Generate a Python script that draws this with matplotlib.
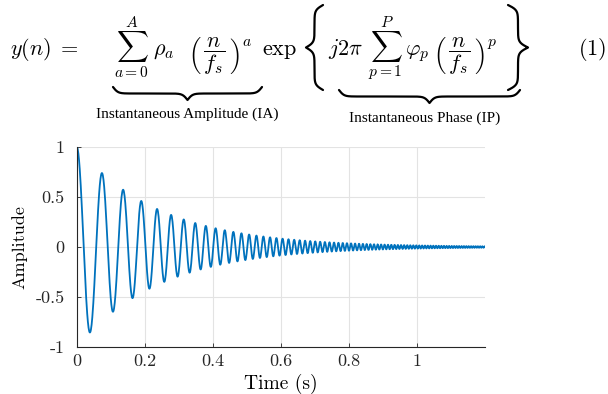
import numpy as np
import matplotlib
matplotlib.use('Agg')
import matplotlib.pyplot as plt
from matplotlib.lines import Line2D

# Signal parameters (peak/zero timings and envelope)
FS = 1000                      # samples per second
T_END = 1.2                    # seconds shown on the x axis
ENV_DECAY = 4.1                # amplitude envelope exp(-ENV_DECAY * t)
PHASE_COEFS = [12.45, 13.13, 25.65]   # phi_1..phi_3 (cycles / s^p)

X_TICKS = [0, 0.2, 0.4, 0.6, 0.8, 1]
X_TICK_LABELS = ['0', '0.2', '0.4', '0.6', '0.8', '1']
Y_TICKS = [-1, -0.5, 0, 0.5, 1]
Y_TICK_LABELS = ['-1', '-0.5', '0', '0.5', '1']

W, H = 608, 394
LINE_COLOR = '#0072BD'
GRID_COLOR = '#e3e3e3'


def fx(px):
    return np.asarray(px) / W


def fy(py):
    return 1 - np.asarray(py) / H


def brace(fig, p0, p1, normal, depth, lw=1.6):
    """Curly brace between two end points (pixel coords), tip along normal."""
    p0 = np.array(p0, float)
    p1 = np.array(p1, float)
    length = np.hypot(*(p1 - p0))
    beta = length / 2.5
    half = np.linspace(0, 0.5, 200)
    dh = 1 / (1 + np.exp(-beta * half)) + 1 / (1 + np.exp(-beta * (half - 0.5)))
    d = np.concatenate([dh, dh[::-1]])
    d = (d - d.min()) / (d.max() - d.min())
    s = np.concatenate([half, half + 0.5])
    pts = p0 + np.outer(s, p1 - p0) + np.outer(d * depth, normal)
    fig.add_artist(Line2D(fx(pts[:, 0]), fy(pts[:, 1]),
                          transform=fig.transFigure, color='black', lw=lw,
                          solid_capstyle='round', solid_joinstyle='round'))


def signal():
    t = np.arange(0, T_END + 1 / FS, 1 / FS)
    phase = sum(c * t ** (p + 1) for p, c in enumerate(PHASE_COEFS))
    y = np.exp(-ENV_DECAY * t) * np.cos(2 * np.pi * phase)
    return t, y


def eq(fig, x, s, ha='left', size=16, base=55):
    fig.text(fx(x), fy(base), s, fontsize=size, ha=ha, va='baseline')


def start():
    plt.rcParams['font.family'] = 'serif'
    plt.rcParams['font.serif'] = ['cmr10']
    plt.rcParams['mathtext.fontset'] = 'cm'

    fig = plt.figure(figsize=(W / 100, H / 100), dpi=100)

    # equation (1), placed piece by piece
    eq(fig, 10, r'$y(n)\;=$')
    eq(fig, 114, r'$\sum_{a=0}^{A}$')
    eq(fig, 153, r'$\rho_a$')
    eq(fig, 188, r'$\left(\,\dfrac{n}{f_s}\,\right)^{a}$')
    eq(fig, 262, r'$\exp$')
    eq(fig, 328, r'$j2\pi$')
    eq(fig, 368, r'$\sum_{p=1}^{P}$')
    eq(fig, 405, r'$\varphi_p$')
    eq(fig, 433, r'$\left(\,\dfrac{n}{f_s}\,\right)^{p}$')
    eq(fig, 606, r'$(1)$', ha='right')

    brace(fig, (323, 5), (323, 90), (-1, 0), 17)
    brace(fig, (508, 5), (508, 90), (1, 0), 20)
    brace(fig, (113, 87), (262, 87), (0, 1), 13)
    brace(fig, (339, 90), (520, 90), (0, 1), 13)

    fig.text(fx(187), fy(114), 'Instantaneous Amplitude (IA)',
             family='Liberation Serif', fontsize=11, ha='center', va='center')
    fig.text(fx(425), fy(118), 'Instantaneous Phase (IP)',
             family='Liberation Serif', fontsize=11, ha='center', va='center')

    # time signal
    ax = fig.add_axes([fx(77), fy(347), fx(485) - fx(77), fy(147) - fy(347)])
    t, y = signal()
    ax.plot(t, y, color=LINE_COLOR, lw=1.3)
    ax.set_xlim(0, T_END)
    ax.set_ylim(-1, 1)
    ax.set_xticks(X_TICKS)
    ax.set_xticklabels(X_TICK_LABELS)
    ax.set_yticks(Y_TICKS)
    ax.set_yticklabels(Y_TICK_LABELS)
    ax.grid(True, color=GRID_COLOR, lw=0.8)
    ax.set_axisbelow(True)
    for side in ['top', 'right']:
        ax.spines[side].set_visible(False)
    for side in ['left', 'bottom']:
        ax.spines[side].set_color('#262626')
        ax.spines[side].set_linewidth(0.8)
    ax.tick_params(direction='in', length=3, width=0.6, colors='#262626',
                   labelsize=13, pad=5)
    ax.tick_params(axis='y', pad=9)
    ax.set_xlabel('Time (s)', fontsize=14, labelpad=3)
    ax.set_ylabel('Amplitude', fontsize=13, labelpad=6)

    fig.savefig('out.png', dpi=100)


if __name__ == '__main__':
    start()
